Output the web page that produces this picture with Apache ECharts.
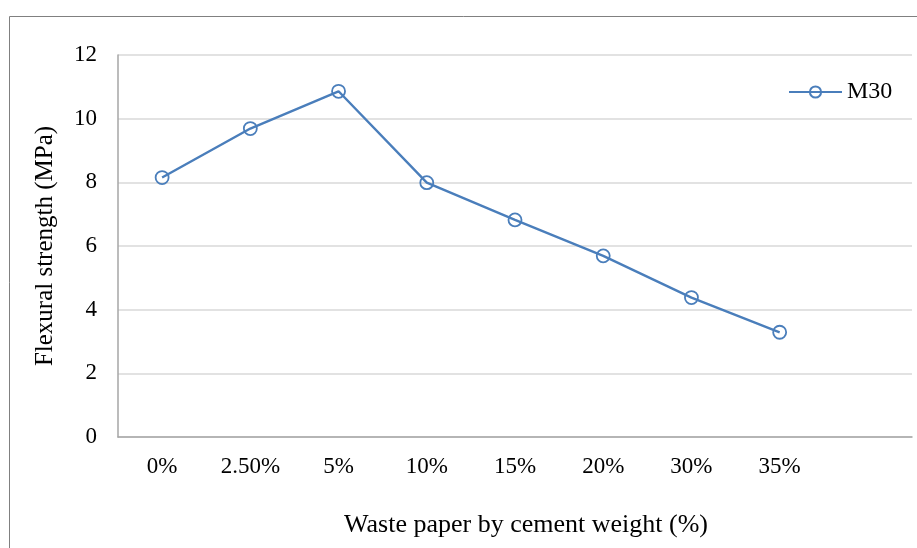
<!DOCTYPE html>
<html>
<head>
<meta charset="utf-8">
<script src="https://cdn.jsdelivr.net/npm/echarts@6/dist/echarts.min.js"></script>
<style>
  html, body { margin: 0; padding: 0; background: #fff; }
  #chart { width: 917px; height: 548px; }
</style>
</head>
<body>
<div id="chart"></div>
<script>
// Waste paper replacement levels (last slot left empty on the axis)
const categories = ['0%', '2.50%', '5%', '10%', '15%', '20%', '30%', '35%', ''];
// Flexural strength of M30 concrete, MPa
const m30 = [8.15, 9.69, 10.86, 7.99, 6.82, 5.69, 4.38, 3.29];
const yTicks = [0, 2, 4, 6, 8, 10, 12];

const serif = '"Liberation Serif", "Times New Roman", serif';
const blue = '#4a7ebb';
const chart = echarts.init(document.getElementById('chart'));

chart.setOption({
  animation: false,
  backgroundColor: '#ffffff',
  graphic: [{
    type: 'rect',
    shape: { x: 9.5, y: 16.5, width: 940, height: 560 },
    style: { fill: 'none', stroke: '#808080', lineWidth: 1 },
    silent: true,
    z: -1
  }],
  grid: { left: 118, top: 55, right: 5, bottom: 111, containLabel: false },
  legend: {
    data: ['M30'],
    left: 783,
    top: 75,
    itemWidth: 53,
    itemHeight: 14,
    itemGap: 0,
    textStyle: { fontFamily: serif, fontSize: 24, color: '#000' }
  },
  xAxis: {
    type: 'category',
    data: categories,
    boundaryGap: true,
    name: 'Waste paper by cement weight (%)',
    nameLocation: 'middle',
    nameGap: 75,
    nameTextStyle: { fontFamily: serif, fontSize: 26, color: '#000', padding: [0, 0, 0, 22] },
    axisLine: { lineStyle: { color: '#a6a6a6', width: 1.5 } },
    axisTick: { show: false },
    axisLabel: { fontFamily: serif, fontSize: 23, color: '#000', margin: 18, interval: 0 },
    splitLine: { show: false }
  },
  yAxis: {
    type: 'value',
    min: yTicks[0],
    max: yTicks[yTicks.length - 1],
    interval: 2,
    name: 'Flexural strength (MPa)',
    nameLocation: 'middle',
    nameGap: 60,
    nameTextStyle: { fontFamily: serif, fontSize: 25, color: '#000' },
    axisLine: { show: true, lineStyle: { color: '#a6a6a6', width: 1.5 } },
    axisTick: { show: false },
    axisLabel: { fontFamily: serif, fontSize: 23, color: '#000', margin: 21 },
    splitLine: { lineStyle: { color: '#d9d9d9', width: 1.5 } }
  },
  series: [{
    name: 'M30',
    type: 'line',
    data: m30,
    symbol: 'circle',
    symbolSize: 13,
    lineStyle: { color: blue, width: 2.4 },
    itemStyle: { color: 'rgba(255,255,255,0)', borderColor: blue, borderWidth: 1.8 }
  }]
});
</script>
</body>
</html>
